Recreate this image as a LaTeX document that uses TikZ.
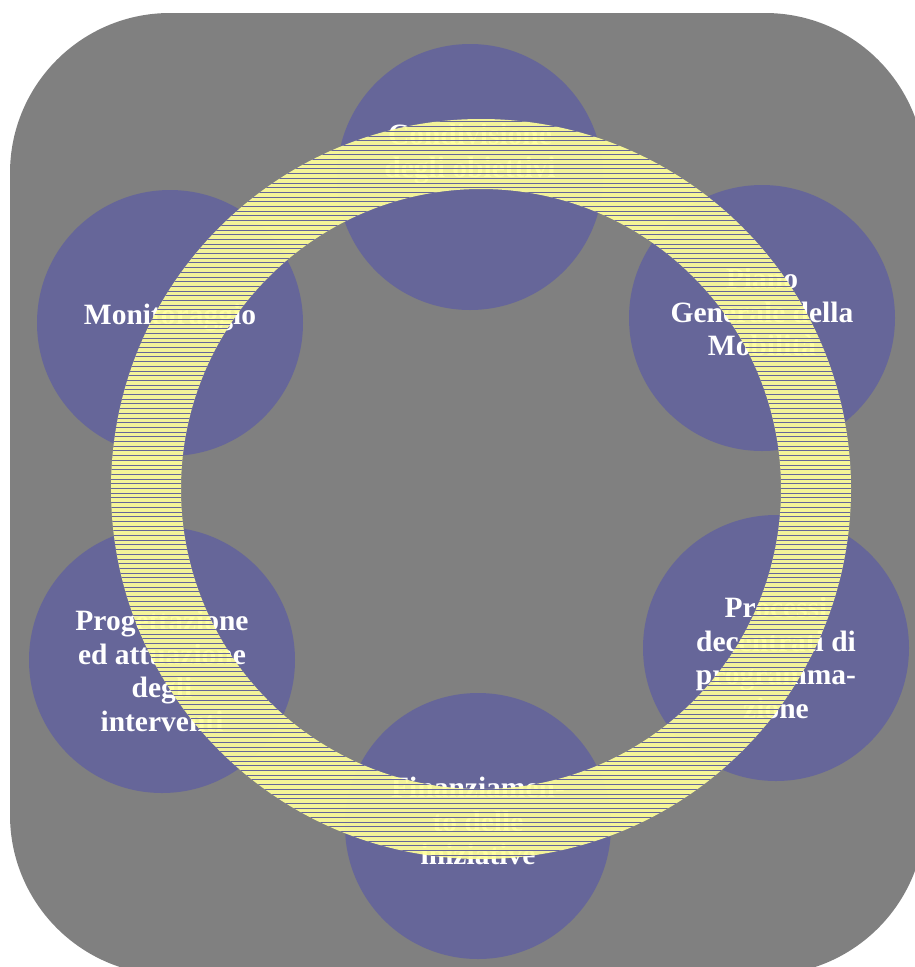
\documentclass[tikz,border=0pt]{standalone}
\usepackage{fontspec}
\setmainfont{Liberation Serif}
\usetikzlibrary{positioning}
\definecolor{slate}{HTML}{808080}
\definecolor{phaseblue}{HTML}{666699}
\definecolor{ringyellow}{HTML}{FFFF99}
\tikzset{
  phase/.style     = {circle, fill=phaseblue, minimum size=266pt, inner sep=0pt},
  phasetext/.style = {text=white, align=center, inner sep=0pt,
                      font=\fontsize{29.5}{33.5}\selectfont\bfseries},
  stripe/.style    = {draw=phaseblue, line width=0.45pt}
}

\begin{document}
\begin{tikzpicture}[x=1pt, y=-1pt]
\useasboundingbox (0,0) rectangle (915,967);
\clip (0,0) rectangle (915,967);
\fill[slate, rounded corners=160pt] (10,13) rectangle (925,975);

% the six phases, clockwise from the top
\node[phase] at (470,177) (goals)    {};
\node[phase] at (762,318) (plan)     {};
\node[phase] at (776,648) (programs) {};
\node[phase] at (478,826) (funding)  {};
\node[phase] at (162,660) (works)    {};
\node[phase] at (170,323) (monitor)  {};

% labels
\node[phasetext] at (470,154) (goalslbl)    {Condivisione\\degli obiettivi};
\node[phasetext] at (762,312) (planlbl)     {Piano\\Generale della\\Mobilità};
\node[phasetext] at (776,658) (programslbl) {Processi\\decentrati di\\programma-\\zione};
\node[phasetext] at (478,821) (fundinglbl)  {Finanziamen-\\to delle\\iniziative};
\node[phasetext] at (162,671) (workslbl)    {Progettazione\\ed attuazione\\degli\\interventi};
\node[phasetext] at (170,318) (monitorlbl)  {Monitoraggio};

% the ring over everything
\coordinate (hub) at (481,489);
\fill[ringyellow, fill opacity=0.92, even odd rule]
  (hub) circle[radius=370pt] (hub) circle[radius=300pt];
\begin{scope}[even odd rule]
  \clip (hub) circle[radius=370pt] (hub) circle[radius=300pt];
  \foreach \k in {0,...,159}
    \draw[stripe] (100,117+4.7*\k) -- (870,117+4.7*\k);
\end{scope}
\end{tikzpicture}
\end{document}
